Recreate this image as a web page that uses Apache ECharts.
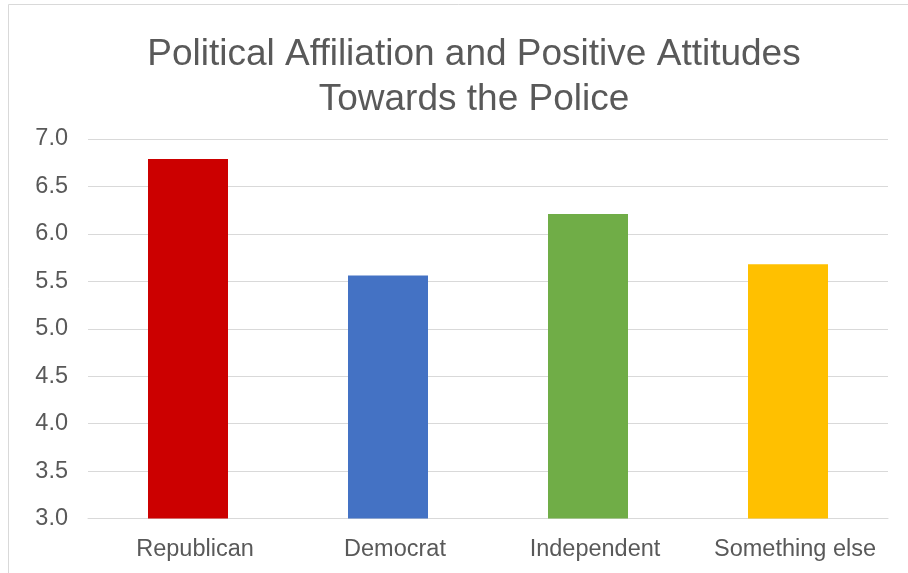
<!DOCTYPE html>
<html><head><meta charset="utf-8">
<script src="https://cdn.jsdelivr.net/npm/echarts@6/dist/echarts.min.js"></script>
<style>html,body{margin:0;padding:0;background:#fff}#c{width:908px;height:573px}</style>
</head><body><div id="c"></div>
<script>
const categories = ["Republican", "Democrat", "Independent", "Something else"];
const values = [6.79, 5.56, 6.21, 5.68];
const colors = ["#CC0000", "#4472C4", "#70AD47", "#FFC000"];
const titleText = "Political Affiliation and Positive Attitudes\nTowards the Police";

const chart = echarts.init(document.getElementById('c'), null, {renderer: 'canvas'});
chart.setOption({
  backgroundColor: '#fff',
  animation: false,
  title: {
    text: titleText,
    left: 469, top: 27, textAlign: 'center',
    textStyle: {fontFamily: 'Liberation Sans', fontSize: 37, fontWeight: 'normal', color: '#595959', lineHeight: 45}
  },
  graphic: [
    {type: 'line', shape: {x1: 8.5, y1: 4.5, x2: 908, y2: 4.5}, style: {stroke: '#d9d9d9', lineWidth: 1}},
    {type: 'line', shape: {x1: 8.5, y1: 4.5, x2: 8.5, y2: 573}, style: {stroke: '#d9d9d9', lineWidth: 1}}
  ],
  grid: {left: 88, right: 20, top: 139, bottom: 54.5},
  xAxis: {
    type: 'category', data: categories,
    axisLine: {show: true, lineStyle: {color: '#d9d9d9'}},
    axisTick: {show: false},
    axisLabel: {interval: 0, hideOverlap: false, fontFamily: 'Liberation Sans', fontSize: 23.5, color: '#595959', margin: 19,
      padding: [0, 0, 0, 14]}
  },
  yAxis: {
    type: 'value', min: 3, max: 7, interval: 0.5,
    axisLine: {show: false}, axisTick: {show: false},
    splitLine: {lineStyle: {color: '#d9d9d9', width: 1}},
    axisLabel: {fontFamily: 'Liberation Sans', fontSize: 23.5, color: '#595959', margin: 20,
      formatter: v => v.toFixed(1)}
  },
  series: [{
    type: 'bar', barWidth: '40%',
    data: values.map((v, i) => ({value: v, itemStyle: {color: colors[i]}}))
  }]
});
</script></body></html>
